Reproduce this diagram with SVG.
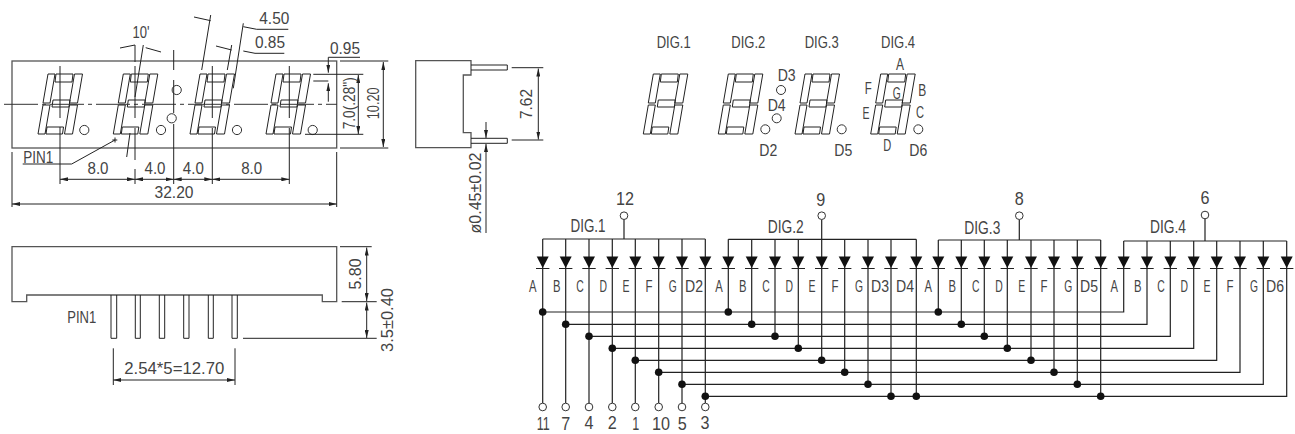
<svg xmlns="http://www.w3.org/2000/svg" width="1295" height="434" viewBox="0 0 1295 434">
<style>
text{font-family:"Liberation Sans",Arial,sans-serif;fill:#444;text-anchor:middle;font-size:16px}
.l{fill:none;stroke:#222;stroke-width:1}
.b{fill:none;stroke:#555;stroke-width:1.3}
.w{fill:none;stroke:#222;stroke-width:1.2}
.c{fill:#fff;stroke:#333;stroke-width:1}
.cl{fill:none;stroke:#333;stroke-width:1;stroke-dasharray:34 4 4 4}
.s{font-size:17px}
.d{font-size:18px}
.n{font-size:19px}
.m{font-size:18px}
</style>
<defs>
<marker id="ah" viewBox="0 0 8 4" refX="8" refY="2" markerWidth="8" markerHeight="4" markerUnits="userSpaceOnUse" orient="auto-start-reverse"><path d="M0 0L8 2L0 4Z" fill="#222"/></marker>
<path id="dg" class="l" d="M10-60H17L12-31H5ZM5-29H12L7 0H0ZM36.500-60H44.500L39.500-31H31.500ZM31.500-29H39.500L34.500 0H26.500ZM18-60H35L34-52H17ZM15-34H32L31-27H14ZM9-7H25.500L24.500 0H8Z"/>
<g id="diode"><path d="M-6-11.500H6L0 0Z" fill="#111"/><path d="M-6.700 .5H6.700" class="l"/></g>
<circle id="dot" r="3.800" fill="#111"/>
<circle id="pin" r="3.800" class="c"/>
</defs>

<g id="top-view">
<rect class="b" x="12" y="61" width="324.700" height="87"/>
<use href="#dg" x="38" y="134"/><use href="#dg" x="113.300" y="134"/><use href="#dg" x="190" y="134"/><use href="#dg" x="266" y="134"/>
<circle class="c" cx="84.300" cy="130" r="4.600"/><circle class="c" cx="161" cy="130" r="4.600"/><circle class="c" cx="237" cy="130" r="4.600"/><circle class="c" cx="312.700" cy="130" r="4.600"/><circle class="c" cx="176.700" cy="90" r="4.600"/><circle class="c" cx="171.700" cy="118.300" r="4.600"/>
<path class="cl" d="M4 104.300H337"/>
<path class="l" d="M60 66V118M60 127V184M135 45V62M135 66V118M135 128V160M135 169V184M173.700 50V70M173.700 80V113M173.700 124V184M212.300 66V118M212.300 128V184M289.300 66V118M289.300 128V184"/>
<path class="l" d="M143.300 45L135 97M130 133L126.700 157"/>
<path class="l" d="M120 48L135 45M161 52L145.700 47.700"/>
<path class="l" d="M210.700 15L201.700 70M194 17L210.700 20.700M231.700 45L227.300 70M216 46L231.700 50M243.300 23.300L233.300 88.300M243.300 26.700L256.700 29.300H288.300M243.300 51L255 53.300H284.300"/>
<path class="l" d="M328.300 57.300H360M328.300 57.300V72.700" marker-end="url(#ah)"/>
<path class="l" d="M328.300 101.700V83.300" marker-end="url(#ah)"/>
<path class="l" d="M313.300 74.300H363.300M313.300 81H328.300M305 134.300H363.300M340 61H388.300M340 148H388.300"/>
<path class="l" d="M358.300 75V134" marker-start="url(#ah)" marker-end="url(#ah)"/>
<path class="l" d="M383.300 62V147" marker-start="url(#ah)" marker-end="url(#ah)"/>
<path class="l" d="M60 179.300H135" marker-start="url(#ah)" marker-end="url(#ah)"/>
<path class="l" d="M135 179.300H173.700" marker-start="url(#ah)" marker-end="url(#ah)"/>
<path class="l" d="M173.700 179.300H212.300" marker-start="url(#ah)" marker-end="url(#ah)"/>
<path class="l" d="M212.300 179.300H289.300" marker-start="url(#ah)" marker-end="url(#ah)"/>
<path class="l" d="M12 204H336.700" marker-start="url(#ah)" marker-end="url(#ah)"/>
<path class="l" d="M12 152V207M336.700 152V207M22.700 164H71.700L115 140M112.300 140H117.300M115 137.500V142.500"/>
<text x="141" y="37.500" class="s" textLength="17" lengthAdjust="spacingAndGlyphs">10'</text>
<text x="274.300" y="24" textLength="30" lengthAdjust="spacingAndGlyphs">4.50</text>
<text x="270" y="48" textLength="30" lengthAdjust="spacingAndGlyphs">0.85</text>
<text x="345" y="54" textLength="30" lengthAdjust="spacingAndGlyphs">0.95</text>
<text transform="translate(354.500 103.300) rotate(-90)" textLength="52" lengthAdjust="spacingAndGlyphs">7.0(.28")</text>
<text transform="translate(378.500 103.300) rotate(-90)" textLength="32" lengthAdjust="spacingAndGlyphs">10.20</text>
<text x="98" y="173.500" textLength="21" lengthAdjust="spacingAndGlyphs">8.0</text>
<text x="155" y="173.500" textLength="21" lengthAdjust="spacingAndGlyphs">4.0</text>
<text x="193.300" y="173.500" textLength="21" lengthAdjust="spacingAndGlyphs">4.0</text>
<text x="251.700" y="173.500" textLength="21" lengthAdjust="spacingAndGlyphs">8.0</text>
<text x="174" y="198" textLength="39" lengthAdjust="spacingAndGlyphs">32.20</text>
<text x="38.300" y="163" textLength="30" lengthAdjust="spacingAndGlyphs">PIN1</text>
</g>

<g id="side-view">
<path class="b" d="M415.700 60.700H471V75H463.300V132.700H471V147.700H415.700Z"/>
<path class="l" d="M471 65H507.300V70H471M471 138.300H507.300V143.300H471M511.700 67.700H543.300M511.700 140H543.300"/>
<path class="l" d="M538.300 68.500V139.500" marker-start="url(#ah)" marker-end="url(#ah)"/>
<path class="l" d="M486 122V138" marker-end="url(#ah)"/>
<path class="l" d="M486 233V144" marker-end="url(#ah)"/>
<text transform="translate(531.500 104) rotate(-90)" textLength="30" lengthAdjust="spacingAndGlyphs">7.62</text>
<text transform="translate(481 193) rotate(-90)" textLength="81" lengthAdjust="spacingAndGlyphs">ø0.45±0.02</text>
</g>

<g id="front-view">
<path class="b" d="M12 246.700H336.700V301.700H322.300V295H26.700V301.700H12Z"/>
<path class="l" d="M111 295V338.300H116.700V295M135.300 295V338.300H140.300V295M159.300 295V338.300H164.700V295M183.700 295V338.300H189V295M208.300 295V338.300H213.300V295M232 295V338.300H237.300V295"/>
<path class="l" d="M340 246.700H371.700M341.700 301.700H376.700M243 338.300H376.700M113.300 348.300V385M235 348.300V385"/>
<path class="l" d="M366.700 247.500V301" marker-start="url(#ah)" marker-end="url(#ah)"/>
<path class="l" d="M366.700 302.500V338" marker-start="url(#ah)" marker-end="url(#ah)"/>
<path class="l" d="M113.300 380H235" marker-start="url(#ah)" marker-end="url(#ah)"/>
<text x="81.700" y="323" textLength="29" lengthAdjust="spacingAndGlyphs">PIN1</text>
<text transform="translate(361 274) rotate(-90)" textLength="31" lengthAdjust="spacingAndGlyphs">5.80</text>
<text transform="translate(392.500 320) rotate(-90)" textLength="64" lengthAdjust="spacingAndGlyphs">3.5±0.40</text>
<text x="174.300" y="374" textLength="100" lengthAdjust="spacingAndGlyphs">2.54*5=12.70</text>
</g>

<g id="digit-map">
<use href="#dg" x="643.300" y="134"/><use href="#dg" x="718.300" y="134"/><use href="#dg" x="795" y="134"/><use href="#dg" x="870.700" y="134"/>
<circle class="c" cx="781" cy="90" r="4.500"/><circle class="c" cx="776.700" cy="118.300" r="4.500"/><circle class="c" cx="765.300" cy="129.300" r="4.500"/><circle class="c" cx="841.700" cy="129.300" r="4.500"/><circle class="c" cx="918.300" cy="129.300" r="4.500"/>
<text x="673.700" y="47.500" class="s" textLength="34" lengthAdjust="spacingAndGlyphs">DIG.1</text>
<text x="748.300" y="47.500" class="s" textLength="34" lengthAdjust="spacingAndGlyphs">DIG.2</text>
<text x="821.700" y="47.500" class="s" textLength="34" lengthAdjust="spacingAndGlyphs">DIG.3</text>
<text x="898" y="47.500" class="s" textLength="34" lengthAdjust="spacingAndGlyphs">DIG.4</text>
<text x="786.700" y="81" class="s" textLength="18" lengthAdjust="spacingAndGlyphs">D3</text>
<text x="776.700" y="111" class="s" textLength="18" lengthAdjust="spacingAndGlyphs">D4</text>
<text x="768.300" y="155.700" class="s" textLength="18" lengthAdjust="spacingAndGlyphs">D2</text>
<text x="843.300" y="155.700" class="s" textLength="18" lengthAdjust="spacingAndGlyphs">D5</text>
<text x="918.300" y="155.700" class="s" textLength="18" lengthAdjust="spacingAndGlyphs">D6</text>
<text x="900" y="70" class="s" textLength="8" lengthAdjust="spacingAndGlyphs">A</text>
<text x="868.300" y="94.300" class="s" textLength="7" lengthAdjust="spacingAndGlyphs">F</text>
<text x="922.300" y="96" class="s" textLength="8" lengthAdjust="spacingAndGlyphs">B</text>
<text x="896.700" y="99" class="s" textLength="8" lengthAdjust="spacingAndGlyphs">G</text>
<text x="866" y="119" class="s" textLength="7" lengthAdjust="spacingAndGlyphs">E</text>
<text x="920" y="118" class="s" textLength="8" lengthAdjust="spacingAndGlyphs">C</text>
<text x="887.300" y="151" class="s" textLength="8" lengthAdjust="spacingAndGlyphs">D</text>
</g>

<g id="connectors">
<path class="w" d="M542.700 239H705.300M624 219.500V239M542.700 239V403M565.700 239V403M589 239V403M612.300 239V403M635.300 239V403M658.700 239V403M682 239V403M705.300 239V403"/>
<path class="w" d="M728.300 239.300H916.300M821.700 219.500V239.300M728.300 239.300V312M751.700 239.300V324.300M775 239.300V336.300M798.300 239.300V348.300M821.700 239.300V360.300M844.700 239.300V372.300M868 239.300V384.300M891 239.300V396.300M916.300 239.300V396.300"/>
<path class="w" d="M938.300 240H1100.700M1019.300 219.500V240M938.300 240V312M961.300 240V324.300M984.300 240V336.300M1007.300 240V348.300M1031 240V360.300M1054 240V372.300M1077.300 240V384.300M1100.700 240V396.300"/>
<path class="w" d="M1123.700 241H1286.700M1205 219V241"/>
<path class="w" d="M542.700 312H1123.700V241M565.700 324.300H1147V241M589 336.300H1170.300V241M612.300 348.300H1193.700V241M635.300 360.300H1216.700V241M658.700 372.300H1240V241M682 384.300H1263.300V241M705.300 396.300H1286.700V241"/>
</g>

<g id="dig1">
<use href="#diode" x="542.700" y="268"/><use href="#diode" x="565.700" y="268"/><use href="#diode" x="589" y="268"/><use href="#diode" x="612.300" y="268"/><use href="#diode" x="635.300" y="268"/><use href="#diode" x="658.700" y="268"/><use href="#diode" x="682" y="268"/><use href="#diode" x="705.300" y="268"/>
<use href="#dot" x="542.700" y="312"/><use href="#dot" x="565.700" y="324.300"/><use href="#dot" x="589" y="336.300"/><use href="#dot" x="612.300" y="348.300"/><use href="#dot" x="635.300" y="360.300"/><use href="#dot" x="658.700" y="372.300"/><use href="#dot" x="682" y="384.300"/><use href="#dot" x="705.300" y="396.300"/>
<use href="#pin" x="624" y="215.700"/>
<text x="625" y="205" class="n" textLength="18" lengthAdjust="spacingAndGlyphs">12</text>
<text x="588" y="231.700" class="d" textLength="35" lengthAdjust="spacingAndGlyphs">DIG.1</text>
<text x="532.700" y="292" class="s" textLength="7.500" lengthAdjust="spacingAndGlyphs">A</text><text x="556.700" y="292" class="s" textLength="7.500" lengthAdjust="spacingAndGlyphs">B</text><text x="580" y="292" class="s" textLength="7.500" lengthAdjust="spacingAndGlyphs">C</text><text x="603.300" y="292" class="s" textLength="7.500" lengthAdjust="spacingAndGlyphs">D</text><text x="626" y="292" class="s" textLength="7" lengthAdjust="spacingAndGlyphs">E</text><text x="649" y="292" class="s" textLength="7" lengthAdjust="spacingAndGlyphs">F</text><text x="672.700" y="292" class="s" textLength="8" lengthAdjust="spacingAndGlyphs">G</text><text x="694" y="292" class="s" textLength="18" lengthAdjust="spacingAndGlyphs">D2</text>
<use href="#pin" x="542.700" y="407"/><use href="#pin" x="565.700" y="407"/><use href="#pin" x="589" y="407"/><use href="#pin" x="612.300" y="407"/><use href="#pin" x="635.300" y="407"/><use href="#pin" x="658.700" y="407"/><use href="#pin" x="682" y="407"/><use href="#pin" x="705.300" y="407"/>
<text x="543.300" y="430" class="m" textLength="13" lengthAdjust="spacingAndGlyphs">11</text><text x="565.700" y="430" class="m" textLength="9" lengthAdjust="spacingAndGlyphs">7</text><text x="589" y="429" class="m" textLength="9" lengthAdjust="spacingAndGlyphs">4</text><text x="612.300" y="429" class="m" textLength="9" lengthAdjust="spacingAndGlyphs">2</text><text x="635.700" y="430" class="m" textLength="7" lengthAdjust="spacingAndGlyphs">1</text><text x="661" y="430" class="m" textLength="18" lengthAdjust="spacingAndGlyphs">10</text><text x="682.300" y="430" class="m" textLength="9" lengthAdjust="spacingAndGlyphs">5</text><text x="705" y="429" class="m" textLength="9" lengthAdjust="spacingAndGlyphs">3</text>
</g>

<g id="dig2">
<use href="#diode" x="728.300" y="268"/><use href="#diode" x="751.700" y="268"/><use href="#diode" x="775" y="268"/><use href="#diode" x="798.300" y="268"/><use href="#diode" x="821.700" y="268"/><use href="#diode" x="844.700" y="268"/><use href="#diode" x="868" y="268"/><use href="#diode" x="891" y="268"/><use href="#diode" x="916.300" y="268"/>
<use href="#dot" x="728.300" y="312"/><use href="#dot" x="751.700" y="324.300"/><use href="#dot" x="775" y="336.300"/><use href="#dot" x="798.300" y="348.300"/><use href="#dot" x="821.700" y="360.300"/><use href="#dot" x="844.700" y="372.300"/><use href="#dot" x="868" y="384.300"/><use href="#dot" x="891" y="396.300"/><use href="#dot" x="916.300" y="396.300"/>
<use href="#pin" x="821.700" y="215.700"/>
<text x="820.700" y="205.500" class="n" textLength="9" lengthAdjust="spacingAndGlyphs">9</text>
<text x="785.700" y="233.300" class="d" textLength="36" lengthAdjust="spacingAndGlyphs">DIG.2</text>
<text x="719" y="292" class="s" textLength="7.500" lengthAdjust="spacingAndGlyphs">A</text><text x="742.700" y="292" class="s" textLength="7.500" lengthAdjust="spacingAndGlyphs">B</text><text x="766" y="292" class="s" textLength="7.500" lengthAdjust="spacingAndGlyphs">C</text><text x="789.300" y="292" class="s" textLength="7.500" lengthAdjust="spacingAndGlyphs">D</text><text x="812" y="292" class="s" textLength="7" lengthAdjust="spacingAndGlyphs">E</text><text x="835" y="292" class="s" textLength="7" lengthAdjust="spacingAndGlyphs">F</text><text x="859" y="292" class="s" textLength="8" lengthAdjust="spacingAndGlyphs">G</text><text x="880" y="292" class="s" textLength="18" lengthAdjust="spacingAndGlyphs">D3</text><text x="905" y="292" class="s" textLength="18" lengthAdjust="spacingAndGlyphs">D4</text>
</g>

<g id="dig3">
<use href="#diode" x="938.300" y="268"/><use href="#diode" x="961.300" y="268"/><use href="#diode" x="984.300" y="268"/><use href="#diode" x="1007.300" y="268"/><use href="#diode" x="1031" y="268"/><use href="#diode" x="1054" y="268"/><use href="#diode" x="1077.300" y="268"/><use href="#diode" x="1100.700" y="268"/>
<use href="#dot" x="938.300" y="312"/><use href="#dot" x="961.300" y="324.300"/><use href="#dot" x="984.300" y="336.300"/><use href="#dot" x="1007.300" y="348.300"/><use href="#dot" x="1031" y="360.300"/><use href="#dot" x="1054" y="372.300"/><use href="#dot" x="1077.300" y="384.300"/><use href="#dot" x="1100.700" y="396.300"/>
<use href="#pin" x="1019.300" y="215.700"/>
<text x="1019.300" y="205" class="n" textLength="9" lengthAdjust="spacingAndGlyphs">8</text>
<text x="982.300" y="234.300" class="d" textLength="36" lengthAdjust="spacingAndGlyphs">DIG.3</text>
<text x="928.300" y="292" class="s" textLength="7.500" lengthAdjust="spacingAndGlyphs">A</text><text x="952.300" y="292" class="s" textLength="7.500" lengthAdjust="spacingAndGlyphs">B</text><text x="975.700" y="292" class="s" textLength="7.500" lengthAdjust="spacingAndGlyphs">C</text><text x="999" y="292" class="s" textLength="7.500" lengthAdjust="spacingAndGlyphs">D</text><text x="1021.700" y="292" class="s" textLength="7" lengthAdjust="spacingAndGlyphs">E</text><text x="1044" y="292" class="s" textLength="7" lengthAdjust="spacingAndGlyphs">F</text><text x="1068.300" y="292" class="s" textLength="8" lengthAdjust="spacingAndGlyphs">G</text><text x="1089" y="292" class="s" textLength="18" lengthAdjust="spacingAndGlyphs">D5</text>
</g>

<g id="dig4">
<use href="#diode" x="1123.700" y="268"/><use href="#diode" x="1147" y="268"/><use href="#diode" x="1170.300" y="268"/><use href="#diode" x="1193.700" y="268"/><use href="#diode" x="1216.700" y="268"/><use href="#diode" x="1240" y="268"/><use href="#diode" x="1263.300" y="268"/><use href="#diode" x="1286.700" y="268"/>
<use href="#pin" x="1205" y="215"/>
<text x="1205" y="204" class="n" textLength="9" lengthAdjust="spacingAndGlyphs">6</text>
<text x="1168" y="233.300" class="d" textLength="36" lengthAdjust="spacingAndGlyphs">DIG.4</text>
<text x="1114.300" y="292" class="s" textLength="7.500" lengthAdjust="spacingAndGlyphs">A</text><text x="1137.700" y="292" class="s" textLength="7.500" lengthAdjust="spacingAndGlyphs">B</text><text x="1161" y="292" class="s" textLength="7.500" lengthAdjust="spacingAndGlyphs">C</text><text x="1184.300" y="292" class="s" textLength="7.500" lengthAdjust="spacingAndGlyphs">D</text><text x="1207" y="292" class="s" textLength="7" lengthAdjust="spacingAndGlyphs">E</text><text x="1230" y="292" class="s" textLength="7" lengthAdjust="spacingAndGlyphs">F</text><text x="1254" y="292" class="s" textLength="8" lengthAdjust="spacingAndGlyphs">G</text><text x="1275" y="292" class="s" textLength="18" lengthAdjust="spacingAndGlyphs">D6</text>
</g>
</svg>
